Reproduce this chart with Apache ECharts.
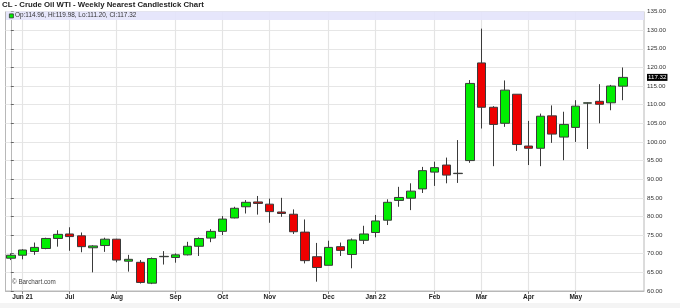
<!DOCTYPE html>
<html>
<head>
<meta charset="utf-8">
<script src="https://cdn.jsdelivr.net/npm/echarts@6/dist/echarts.min.js"></script>
<style>
html,body{margin:0;padding:0;background:#fff;}
#c{width:680px;height:308px;}
</style>
</head>
<body>
<div id="c"></div>
<script>
const weeks = ['2021-05-31','2021-06-07','2021-06-14','2021-06-21','2021-06-28','2021-07-05','2021-07-12','2021-07-19','2021-07-26','2021-08-02','2021-08-09','2021-08-16','2021-08-23','2021-08-30','2021-09-06','2021-09-13','2021-09-20','2021-09-27','2021-10-04','2021-10-11','2021-10-18','2021-10-25','2021-11-01','2021-11-08','2021-11-15','2021-11-22','2021-11-29','2021-12-06','2021-12-13','2021-12-20','2021-12-27','2022-01-03','2022-01-10','2022-01-17','2022-01-24','2022-01-31','2022-02-07','2022-02-14','2022-02-21','2022-02-28','2022-03-07','2022-03-14','2022-03-21','2022-03-28','2022-04-04','2022-04-11','2022-04-18','2022-04-25','2022-05-02','2022-05-09','2022-05-16','2022-05-23','2022-05-30'];
const opens  = [68.8,69.6,70.6,71.4,74.1,75.3,74.8,71.6,72.2,73.9,68.0,67.7,62.1,69.2,69.0,69.7,72.0,74.2,76.0,79.6,82.6,83.9,83.3,81.2,80.6,75.8,69.2,66.9,71.9,69.8,73.6,75.7,79.0,84.3,84.9,87.4,91.9,93.8,91.5,95.0,121.2,109.3,105.0,112.8,98.9,98.3,107.0,101.3,103.9,110.4,110.9,110.5,114.96];
const closes = [69.6,71.0,71.7,74.1,75.2,74.6,71.9,72.1,73.9,68.3,68.5,62.3,68.7,69.3,69.7,72.0,74.1,76.0,79.3,82.2,83.8,83.5,81.3,80.8,75.9,68.15,66.3,71.7,70.9,73.7,75.3,78.8,83.8,85.1,86.8,92.3,93.1,91.1,91.6,115.7,109.3,104.7,113.9,99.3,98.3,106.9,102.1,104.7,109.6,110.5,110.1,115.0,117.32];
const lows   = [68.3,68.5,69.7,71.2,71.9,70.8,70.4,65.0,70.5,67.7,65.2,62.0,61.85,67.1,67.6,69.55,69.4,73.1,75.0,79.5,80.8,80.5,78.3,79.9,75.3,67.4,62.5,66.9,69.4,66.1,72.6,74.4,77.7,82.6,81.7,86.3,88.2,88.9,89.0,94.4,103.6,93.5,104.05,97.6,93.8,93.5,99.75,95.1,100.0,98.1,105.0,108.5,111.20];
const highs  = [70.1,71.2,73.0,74.3,76.3,77.1,75.7,72.3,74.3,74.0,69.7,68.3,69.0,70.7,70.1,73.2,74.4,76.6,80.1,82.6,84.4,85.5,84.8,85.0,81.9,79.2,72.9,73.5,73.0,74.1,77.5,80.4,84.6,87.95,88.9,93.3,94.7,95.8,100.5,116.6,130.4,109.6,116.5,112.8,105.65,107.6,109.8,108.1,111.2,110.6,115.5,115.3,119.98];
const monthTicks  = [1,5,9,14,18,22,27,31,36,40,44,48];
const monthLabels = ['Jun 21','Jul','Aug','Sep','Oct','Nov','Dec','Jan 22','Feb','Mar','Apr','May'];
const yTicks = {min:60, max:135, step:5};

const FONT = 'Liberation Sans, Arial, sans-serif';
const candleData = weeks.map((w,i)=>[i, opens[i], closes[i], lows[i], highs[i]]);
const last = weeks.length-1;
const legendText = 'Op:' + opens[last].toFixed(2) + ', Hi:' + highs[last].toFixed(2) + ', Lo:' + lows[last].toFixed(2) + ', Cl:' + closes[last].toFixed(2);

const chart = echarts.init(document.getElementById('c'), null, {renderer:'canvas'});
chart.setOption({
  animation:false,
  backgroundColor:'#fff',
  grid:{left:5.5, right:36, top:11.5, bottom:17, show:true, borderColor:'#b8b8b8', borderWidth:1, backgroundColor:'transparent'},
  xAxis:{
    type:'value', min:-0.45, max:53.8,
    axisLine:{show:true, lineStyle:{color:'#b8b8b8'}},
    axisTick:{show:true, customValues:monthTicks, length:3, lineStyle:{color:'#888'}},
    axisLabel:{customValues:monthTicks, formatter:(v)=>monthLabels[monthTicks.indexOf(Math.round(v))]||'',
      fontFamily:FONT, fontSize:6.5, fontWeight:'bold', color:'#222', margin:3},
    splitLine:{show:true, lineStyle:{color:'#e4e4e4', width:1.2}}
  },
  yAxis:{
    type:'value', position:'right', min:yTicks.min, max:yTicks.max, interval:yTicks.step,
    axisLine:{show:true, lineStyle:{color:'#b8b8b8'}},
    axisTick:{show:true, length:3, lineStyle:{color:'#666'}},
    axisLabel:{formatter:(v)=>v.toFixed(2), fontFamily:FONT, fontSize:6.2, color:'#333', margin:3},
    splitLine:{show:true, lineStyle:{color:'#e6e6e6', width:1.2}}
  },
  series:[{
    type:'candlestick',
    data:candleData,
    encode:{x:0, y:[1,2,3,4]},
    barWidth:9,
    itemStyle:{color:'#00ee00', color0:'#ee0000', borderColor:'#3a3a3a', borderColor0:'#3a3a3a', borderWidth:1},
    markLine:{
      silent:true, symbol:'none', clip:false, z:10,
      lineStyle:{color:'rgba(0,0,0,0)', width:0.1},
      label:{show:true, position:'end', formatter:closes[last].toFixed(2), backgroundColor:'#000', color:'#fff',
        fontFamily:FONT, fontSize:6.2, padding:[1,1,0,1], distance:3},
      emphasis:{disabled:true},
      data:[{yAxis:closes[last]}]
    }
  }],
  graphic:[
    {type:'rect', left:6, top:11.5, z:5, shape:{width:638, height:8.5}, style:{fill:'rgba(228,228,251,0.92)'}},
    {type:'rect', left:9, top:13.5, z:6, shape:{width:4, height:4}, style:{fill:'#00ee00', stroke:'#333', lineWidth:0.8}},
    {type:'text', left:15, top:12.6, z:6, style:{text:legendText, font:'6.4px '+FONT, fill:'#333'}},
    {type:'text', left:2, top:0.8, z:6, style:{text:'CL - Crude Oil WTI - Weekly Nearest Candlestick Chart', font:'bold 7.8px '+FONT, fill:'#222'}},
    {type:'text', left:12, top:279.5, z:6, style:{text:'\u00a9 Barchart.com', font:'6.3px '+FONT, fill:'#444'}},
    {type:'rect', left:0, top:303, z:0, shape:{width:680, height:5}, style:{fill:'#f4f4f4'}}
  ]
});
</script>
</body>
</html>
